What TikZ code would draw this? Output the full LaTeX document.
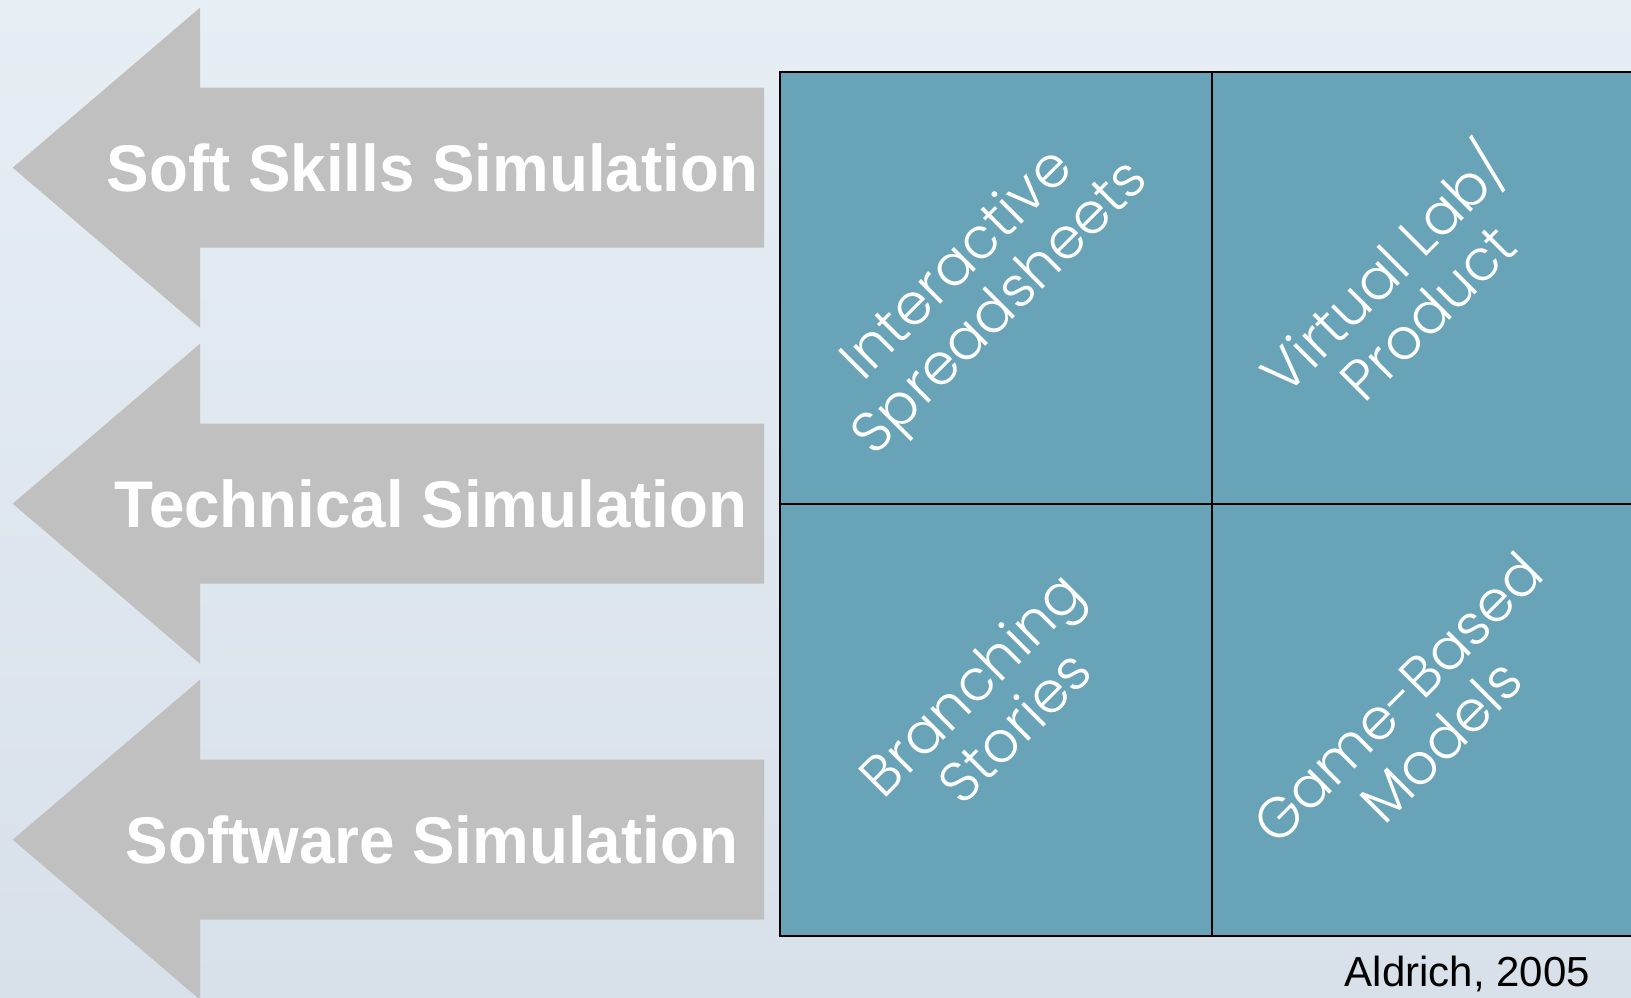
\documentclass[tikz,border=0pt]{standalone}
\usepackage{fontspec}
\newfontfamily\arrowfont[FakeStretch=0.965]{Liberation Sans}
\newfontfamily\cellfont{Poppins}[UprightFont=* Light]
\newfontfamily\notefont{Liberation Sans}
\definecolor{arrowgrey}{RGB}{192,192,192}
\definecolor{cellteal}{RGB}{104,163,183}
\definecolor{bgtop}{RGB}{231,238,244}
\definecolor{bgbottom}{RGB}{216,224,234}
\newcommand{\drawcell}{\node[draw=black,line width=2pt,fill=cellteal,minimum size=432pt,inner sep=0]}
\newcommand{\drawcelltext}{\node[white,rotate=45,align=center,inner sep=0,font=\cellfont\fontsize{57}{61}\selectfont]}
\newcommand{\drawsimtext}{\node[white,anchor=base,inner sep=0,font=\arrowfont\bfseries\fontsize{66}{70}\selectfont]}
\newcommand{\drawleftarrow}[1]{\fill[arrowgrey] (12.7,#1) -- (200,{#1-160}) -- (200,{#1-80}) -- (764,{#1-80}) -- (764,{#1+80}) -- (200,{#1+80}) -- (200,{#1+160}) -- cycle;}

\begin{document}
\begin{tikzpicture}[x=1pt, y=-1pt]
\useasboundingbox (0,0) rectangle (1631,998);
\clip (0,0) rectangle (1631,998);
\shade[top color=bgtop, bottom color=bgbottom] (0,0) rectangle (1631,998);

%the three simulation arrows
\drawleftarrow{167.7}
\drawleftarrow{503.7}
\drawleftarrow{839.7}
\drawsimtext (soft) at (432.5,191.7) {Soft Skills Simulation};
\drawsimtext (tech) at (431,527.7) {Technical Simulation};
\drawsimtext (software) at (432,863.7) {Software Simulation};

%the 2x2 grid
\drawcell (is) at (996,288) {};
\drawcell (vl) at (1428,288) {};
\drawcell (bs) at (996,720) {};
\drawcell (gb) at (1428,720) {};
\drawcelltext (istext) at (981,288) {Interactive\\Spreadsheets};
\drawcelltext (vltext) at (1402,287) {Virtual Lab/\\Product};
\drawcelltext (bstext) at (992,705) {Branching\\Stories};
\drawcelltext (gbtext) at (1419,719) {Game-Based\\Models};

\node[anchor=base,inner sep=0,font=\notefont\fontsize{42}{45}\selectfont] (cite) at (1467.5,986) {Aldrich, 2005};
\end{tikzpicture}
\end{document}
